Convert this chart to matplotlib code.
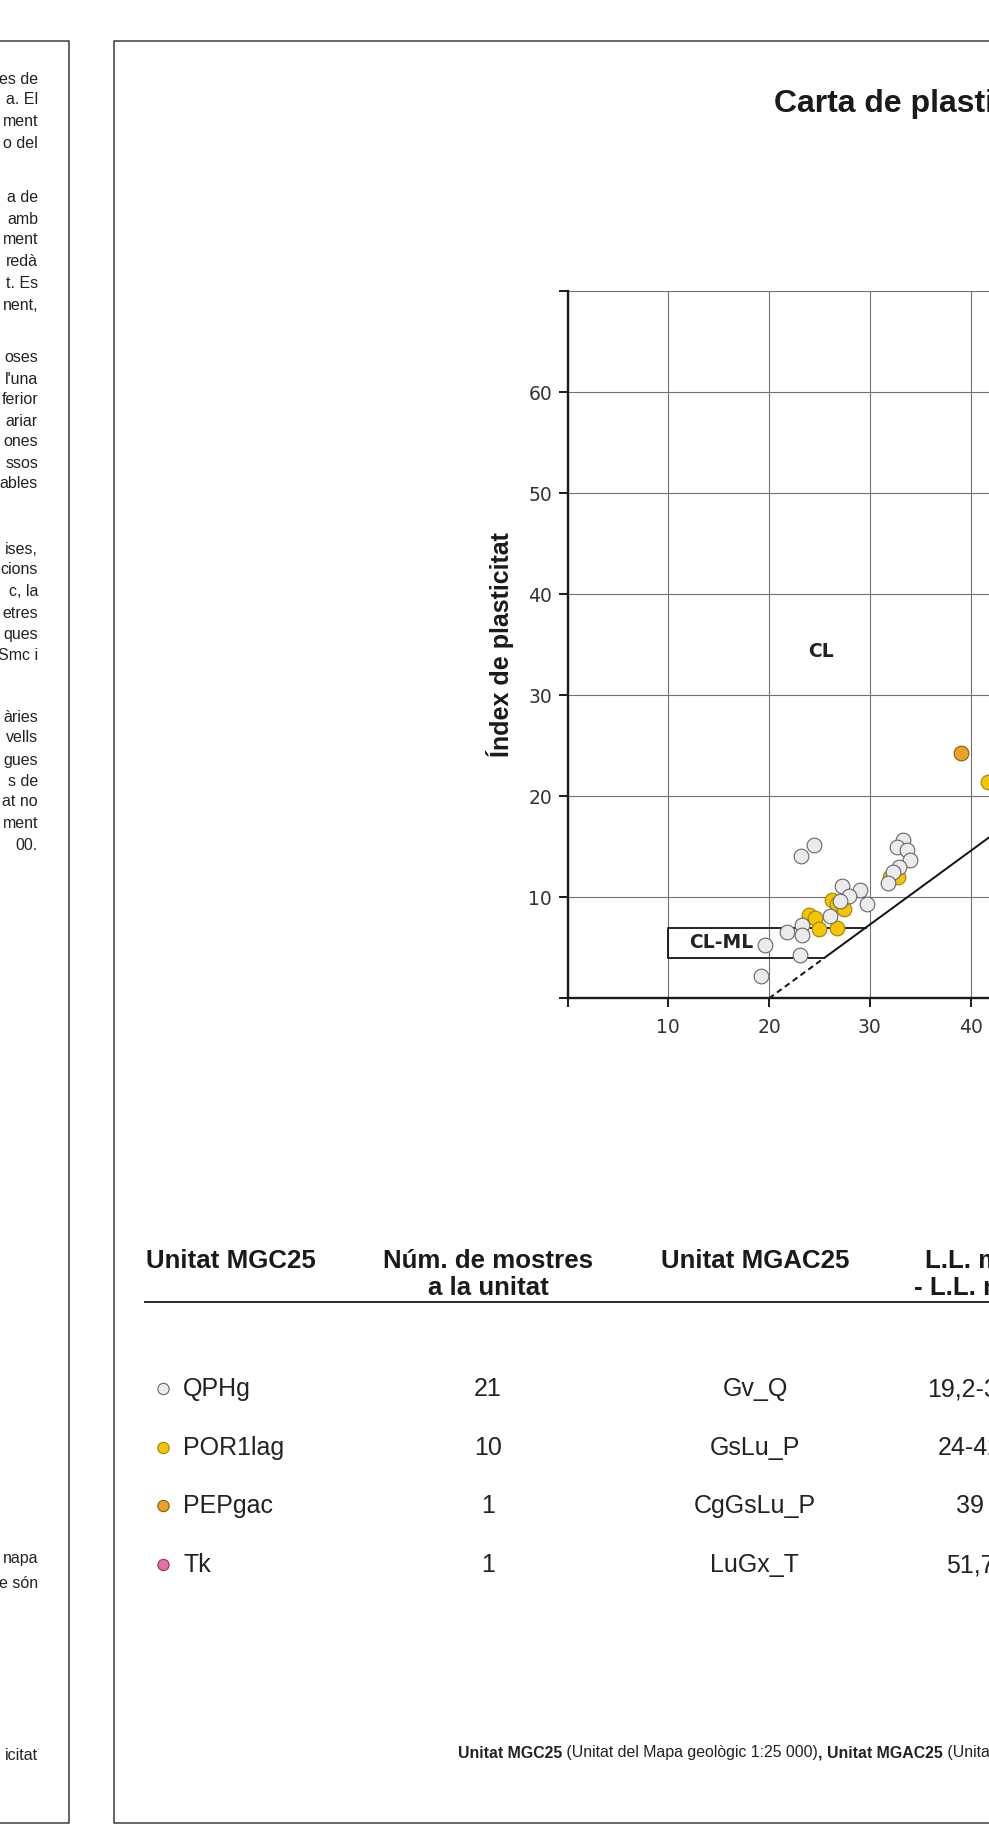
# Carta de plasticitat (Casagrande) amb taula d'unitats
import matplotlib
matplotlib.use("Agg")
import matplotlib.pyplot as plt
import numpy as np

W, H, DPI = 989, 1843, 100

# --- dades (límit líquid, índex de plasticitat) ---
qphg_ll = [24.5, 23.2, 33.3, 32.7, 33.7, 34.0, 32.9, 32.3, 31.8, 27.2, 29.0,
           27.9, 29.7, 27.0, 26.0, 23.3, 21.8, 23.3, 19.6, 23.1, 19.2]
qphg_ip = [15.2, 14.1, 15.7, 15.0, 14.7, 13.7, 13.0, 12.5, 11.4, 11.1, 10.7,
           10.1, 9.3, 9.6, 8.1, 7.3, 6.6, 6.3, 5.3, 4.3, 2.2]
por_ll = [24.0, 24.6, 25.0, 26.7, 26.2, 26.7, 27.4, 32.0, 32.8, 41.7]
por_ip = [8.2, 8.0, 6.9, 7.0, 9.7, 9.3, 8.8, 12.0, 12.0, 21.4]
pep_ll = [39.0]
pep_ip = [24.3]
tk_ll = [51.7]
tk_ip = [27.0]

# taula
unitats_mgc25 = ["QPHg", "POR1lag", "PEPgac", "Tk"]
num_mostres = ["21", "10", "1", "1"]
unitats_mgac25 = ["Gv_Q", "GsLu_P", "CgGsLu_P", "LuGx_T"]
rang_ll = ["19,2-34", "24-42", "39", "51,7"]
colors_fons = ["#ebebeb", "#f5c400", "#eda126", "#e46fa4"]
colors_vora = ["#666666", "#9a8410", "#8a5c10", "#8a3c60"]

# text tallat de la columna esquerra
text_esq = ["es de", "a. El", "ment", "o del",
            "a de", "amb", "ment", "redà", "t. Es", "nent,",
            "oses", "l'una", "ferior", "ariar", "ones", "ssos", "ables",
            "ises,", "cions", "c, la", "etres", "ques", "Smc i",
            "àries", "vells", "gues", "s de", "at no", "ment", "00.",
            "napa", "e són", "icitat"]
y_text_esq = [79, 100, 121, 143,
              198, 219, 240, 262, 283, 305,
              358, 379, 400, 421, 442, 463, 484,
              549, 570, 591, 613, 634, 655,
              717, 738, 760, 781, 802, 823, 845,
              1558, 1583, 1755]

fig = plt.figure(figsize=(W / DPI, H / DPI), dpi=DPI)
bg = fig.add_axes([0, 0, 1, 1])
bg.set_xlim(0, W)
bg.set_ylim(H, 0)
bg.axis("off")

# marcs
marc = "#3a3a3a"
bg.plot([-5, 69, 69, -5], [40.5, 40.5, 1823, 1823], color=marc, lw=1.1)
bg.plot([1000, 114, 114, 1000], [40.5, 40.5, 1823, 1823], color=marc, lw=1.1)

for s, y in zip(text_esq, y_text_esq):
    bg.text(38, y, s, ha="right", va="center", fontsize=11.5,
            family="Liberation Sans", color="#222222")

bg.text(774, 111.7, "Carta de plasticitat", ha="left", va="baseline",
        fontsize=23, weight="bold", family="Liberation Sans", color="#1a1a1a")

# --- gràfic ---
x0, xu, y0, yu = 567.5, 10.08, 998.3, 10.1
xmax, ymax = 60, 70
ax = fig.add_axes([x0 / W, (H - y0) / H, xmax * xu / W, ymax * yu / H])
ax.set_xlim(0, xmax)
ax.set_ylim(0, ymax)
ax.set_xticks(range(0, xmax + 1, 10))
ax.set_xticklabels([""] + [str(v) for v in range(10, xmax + 1, 10)])
ax.set_yticks(range(0, ymax + 1, 10))
ax.set_yticklabels([""] + [str(v) for v in range(10, 61, 10)] + [""])
ax.grid(True, color="#727272", lw=0.8)
ax.set_axisbelow(True)
for k in ["top", "right"]:
    ax.spines[k].set_visible(False)
for k in ["left", "bottom"]:
    ax.spines[k].set_linewidth(1.7)
    ax.spines[k].set_color("#1a1a1a")
ax.tick_params(axis="both", direction="out", length=6.5, width=1.4,
               labelsize=13.5, colors="#1a1a1a")
ax.tick_params(axis="y", pad=4.5)
ax.tick_params(axis="x", pad=7.5)
for lab in ax.get_xticklabels() + ax.get_yticklabels():
    lab.set_family("DejaVu Sans")
    lab.set_color("#333333")

# línia A: IP = 0,73 (LL - 20)
ll_tall = 20 + 4 / 0.73
ll_a = np.array([ll_tall, xmax])
ax.plot([20, ll_tall], [0, 4], color="#111111", lw=1.4, ls=(0, (3, 2)))
ax.plot(ll_a, 0.73 * (ll_a - 20), color="#111111", lw=1.4)
# zona CL-ML
ax.plot([20 + 7 / 0.73, 10, 10, ll_tall], [7, 7, 4, 4], color="#111111", lw=1.3)

ax.text(15.3, 5.5, "CL-ML", ha="center", va="center", fontsize=13.5,
        weight="bold", family="DejaVu Sans", color="#222222")
ax.text(25.1, 34.3, "CL", ha="center", va="center", fontsize=13.5,
        weight="bold", family="DejaVu Sans", color="#222222")

sz = 112
ax.scatter(por_ll, por_ip, s=sz, c=colors_fons[1], edgecolors=colors_vora[1], lw=0.8, zorder=3)
ax.scatter(qphg_ll, qphg_ip, s=sz, c=colors_fons[0], edgecolors=colors_vora[0], lw=0.8, zorder=4)
ax.scatter(pep_ll, pep_ip, s=sz, c=colors_fons[2], edgecolors=colors_vora[2], lw=0.8, zorder=5)
ax.scatter(tk_ll, tk_ip, s=sz, c=colors_fons[3], edgecolors=colors_vora[3], lw=0.8, zorder=5)

ax.text(-6.7, 35, "Índex de plasticitat", rotation=90, ha="center", va="center",
        fontsize=18, weight="bold", family=["Liberation Sans Narrow", "Liberation Sans"],
        color="#1a1a1a")

# --- taula ---
cap = dict(fontsize=18.6, weight="bold", family="Liberation Sans", color="#1a1a1a", va="center")
bg.text(146.5, 1261, "Unitat MGC25", ha="left", **cap)
bg.text(488, 1261, "Núm. de mostres", ha="center", **cap)
bg.text(488, 1288, "a la unitat", ha="center", **cap)
bg.text(755, 1261, "Unitat MGAC25", ha="center", **cap)
bg.text(990, 1261, "L.L. mínim", ha="center", **cap)
bg.text(990, 1288, "- L.L. màxim", ha="center", **cap)
bg.plot([145, 1000], [1302, 1302], color="#2a2a2a", lw=1.4)

fila = dict(fontsize=18, family="Liberation Sans", color="#222222", va="center")
y_files = [1389, 1448, 1506, 1565]
bg.scatter([163.5] * 4, y_files, s=66, c=colors_fons, edgecolors=colors_vora, lw=0.8)
for i, y in enumerate(y_files):
    bg.text(183, y, unitats_mgc25[i], ha="left", **fila)
    bg.text(488, y, num_mostres[i], ha="center", **fila)
    bg.text(755, y, unitats_mgac25[i], ha="center", **fila)
    bg.text(970, y, rang_ll[i], ha="center", **fila)

# nota al peu (trossos en negreta i normal)
peu = [("Unitat MGC25", "bold"), (" (Unitat del Mapa geològic 1:25 000)", "normal"),
       (", ", "bold"), ("Unitat MGAC25", "bold"),
       (" (Unitat del Mapa geoantròpic 1:25 000)", "normal")]
prev = bg.text(458, 1753, peu[0][0], ha="left", va="center", fontsize=11.4,
               weight=peu[0][1], family="Liberation Sans", color="#222222")
for s, w in peu[1:]:
    prev = bg.annotate(s, xy=(1, 0), xycoords=prev, ha="left", va="bottom",
                       fontsize=11.4, weight=w, family="Liberation Sans", color="#222222")

fig.savefig("out.png", dpi=DPI)
